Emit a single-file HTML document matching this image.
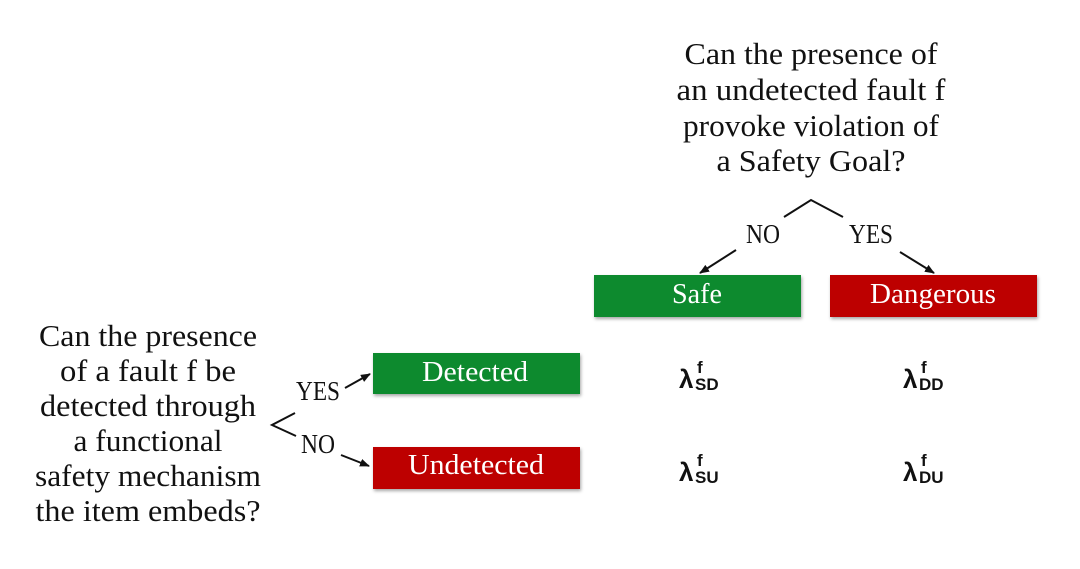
<!DOCTYPE html>
<html><head><meta charset="utf-8"><style>
html,body{margin:0;padding:0;background:#fff;width:1080px;height:569px;overflow:hidden}
svg{display:block}
.q{font-family:"Liberation Serif",serif;font-size:31px;fill:#111}
.l{font-family:"Liberation Serif",serif;font-size:27px;fill:#111}
.b{font-family:"Liberation Serif",serif;font-size:28px;fill:#fff}
.m{font-family:"Liberation Sans",sans-serif;font-weight:bold;fill:#111}
</style></head><body>
<svg width="1080" height="569" viewBox="0 0 1080 569">
<defs>
<marker id="a" markerWidth="10" markerHeight="8" refX="9" refY="4" orient="auto" markerUnits="userSpaceOnUse"><path d="M0,0 L10,4 L0,8 z" fill="#111"/></marker>
<filter id="s" x="-5%" y="-10%" width="110%" height="130%"><feDropShadow dx="1" dy="2" stdDeviation="1.5" flood-color="#000" flood-opacity="0.35"/></filter>
</defs>
<g class="q" text-anchor="middle">
<text x="811" y="64" textLength="253" lengthAdjust="spacingAndGlyphs">Can the presence of</text>
<text x="811" y="100" textLength="269" lengthAdjust="spacingAndGlyphs">an undetected fault f</text>
<text x="811" y="136" textLength="256" lengthAdjust="spacingAndGlyphs">provoke violation of</text>
<text x="811" y="171" textLength="189" lengthAdjust="spacingAndGlyphs">a Safety Goal?</text>
<text x="148" y="346" textLength="218" lengthAdjust="spacingAndGlyphs">Can the presence</text>
<text x="148" y="381" textLength="176" lengthAdjust="spacingAndGlyphs">of a fault f be</text>
<text x="148" y="416" textLength="216" lengthAdjust="spacingAndGlyphs">detected through</text>
<text x="148" y="451" textLength="149" lengthAdjust="spacingAndGlyphs">a functional</text>
<text x="148" y="486" textLength="226" lengthAdjust="spacingAndGlyphs">safety mechanism</text>
<text x="148" y="521" textLength="225" lengthAdjust="spacingAndGlyphs">the item embeds?</text>
</g>
<g stroke="#111" stroke-width="2" fill="none">
<polyline points="784,217 811,200 843,217"/>
<line x1="736" y1="250" x2="700" y2="273" marker-end="url(#a)"/>
<line x1="900" y1="252" x2="934" y2="273" marker-end="url(#a)"/>
<polyline points="295,413 272,425 296,436"/>
<line x1="345" y1="388" x2="370" y2="374" marker-end="url(#a)"/>
<line x1="341" y1="455" x2="369" y2="466" marker-end="url(#a)"/>
</g>
<g class="l" text-anchor="middle">
<text x="763" y="243" textLength="34" lengthAdjust="spacingAndGlyphs">NO</text>
<text x="871" y="243" textLength="44" lengthAdjust="spacingAndGlyphs">YES</text>
<text x="318" y="400" textLength="44" lengthAdjust="spacingAndGlyphs">YES</text>
<text x="318" y="453" textLength="34" lengthAdjust="spacingAndGlyphs">NO</text>
</g>
<g filter="url(#s)">
<rect x="594" y="275" width="207" height="42" fill="#078a2f"/>
<rect x="830" y="275" width="207" height="42" fill="#bd0000"/>
<rect x="373" y="353" width="207" height="41" fill="#078a2f"/>
<rect x="373" y="447" width="207" height="42" fill="#bd0000"/>
</g>
<g class="b" text-anchor="middle">
<text x="697" y="303" textLength="50" lengthAdjust="spacingAndGlyphs">Safe</text>
<text x="933" y="303" textLength="126" lengthAdjust="spacingAndGlyphs">Dangerous</text>
<text x="475" y="381" textLength="106" lengthAdjust="spacingAndGlyphs">Detected</text>
<text x="476" y="474" textLength="136" lengthAdjust="spacingAndGlyphs">Undetected</text>
</g>
<g class="m">
<text x="679" y="388" font-size="26">λ</text><text x="697" y="373" font-size="17">f</text><text x="695" y="390" font-size="17">SD</text>
<text x="903" y="388" font-size="26">λ</text><text x="921" y="373" font-size="17">f</text><text x="919" y="390" font-size="17">DD</text>
<text x="679" y="481" font-size="26">λ</text><text x="697" y="466" font-size="17">f</text><text x="695" y="483" font-size="17">SU</text>
<text x="903" y="481" font-size="26">λ</text><text x="921" y="466" font-size="17">f</text><text x="919" y="483" font-size="17">DU</text>
</g>
</svg>
</body></html>
